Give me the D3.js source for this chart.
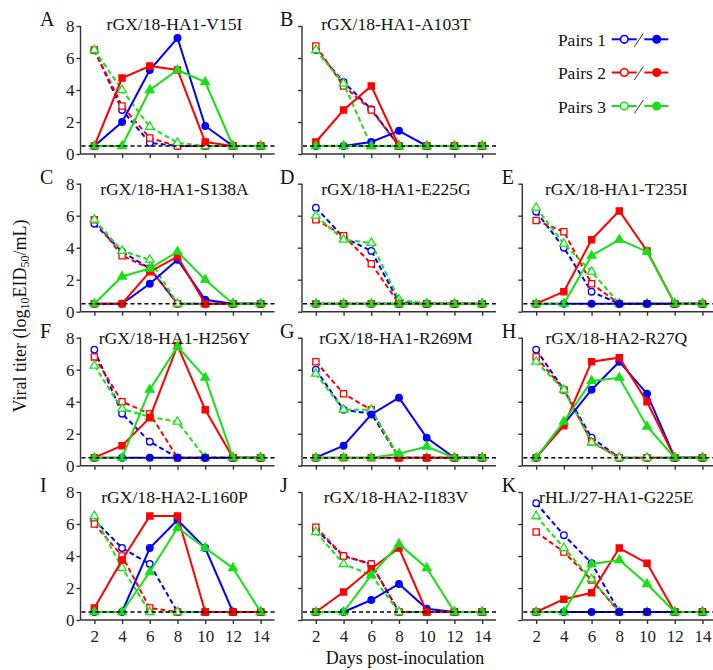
<!DOCTYPE html>
<html><head><meta charset="utf-8">
<script src="https://cdn.jsdelivr.net/npm/d3@7"></script>
<style>body{margin:0;background:#fff} svg{display:block}</style>
</head><body>
<svg id="chart" width="713" height="670"></svg>
<script>
// ---------------- DATA ----------------
const days = [2, 4, 6, 8, 10, 12, 14];
const yTicks = [0, 2, 4, 6, 8];
const detectionLimit = 0.5;
const panelLetters = ["A","B","C","D","E","F","G","H","I","J","K"];
const panelTitles = ["rGX/18-HA1-V15I","rGX/18-HA1-A103T","rGX/18-HA1-S138A","rGX/18-HA1-E225G",
  "rGX/18-HA1-T235I","rGX/18-HA1-H256Y","rGX/18-HA1-R269M","rGX/18-HA2-R27Q",
  "rGX/18-HA2-L160P","rGX/18-HA2-I183V","rHLJ/27-HA1-G225E"];
const pairLabels = ["Pairs 1","Pairs 2","Pairs 3"];
// rows: inoculated pair1, pair2, pair3 (dashed, open), contact pair1, pair2, pair3 (solid, filled)
const dataA = [
  [6.5,2.75,0.7,0.5,0.5,0.5,0.5],[6.5,3.0,1.0,0.5,0.5,0.5,0.5],[6.5,4.0,1.7,0.7,0.5,0.5,0.5],
  [0.5,2.0,5.25,7.25,1.75,0.5,0.5],[0.5,4.75,5.5,5.25,0.75,0.5,0.5],[0.5,0.5,4.0,5.25,4.5,0.5,0.5]];
const dataB = [
  [6.5,4.5,2.8,0.5,0.5,0.5,0.5],[6.75,4.25,2.75,0.5,0.5,0.5,0.5],[6.5,4.4,0.5,0.5,0.5,0.5,0.5],
  [0.5,0.5,0.75,1.45,0.5,0.5,0.5],[0.75,2.75,4.25,0.5,0.5,0.5,0.5],[0.5,0.5,0.5,0.5,0.5,0.5,0.5]];
const dataC = [
  [5.5,3.75,2.7,0.5,0.5,0.5,0.5],[5.75,3.5,2.7,0.5,0.5,0.5,0.5],[5.75,3.8,3.25,0.5,0.5,0.5,0.5],
  [0.5,0.5,1.75,3.25,0.75,0.5,0.5],[0.5,0.5,2.5,3.45,0.5,0.5,0.5],[0.5,2.2,2.7,3.75,2.0,0.5,0.5]];
const dataD = [
  [6.5,4.65,3.8,0.6,0.5,0.5,0.5],[5.75,4.75,3.0,0.5,0.5,0.5,0.5],[6.0,4.5,4.3,0.75,0.5,0.5,0.5],
  [0.5,0.5,0.5,0.5,0.5,0.5,0.5],[0.5,0.5,0.5,0.5,0.5,0.5,0.5],[0.5,0.5,0.5,0.5,0.5,0.5,0.5]];
const dataE = [
  [6.25,4.0,1.25,0.5,0.5,0.5,0.5],[5.7,5.0,1.75,0.5,0.5,0.5,0.5],[6.5,4.25,2.5,0.5,0.5,0.5,0.5],
  [0.5,0.5,0.5,0.5,0.5,0.5,0.5],[0.5,1.25,4.5,6.3,3.8,0.5,0.5],[0.5,0.5,3.5,4.5,3.75,0.5,0.5]];
const dataF = [
  [7.25,3.25,1.5,0.5,0.5,0.5,0.5],[6.8,4.0,3.25,0.5,0.5,0.5,0.5],[6.25,3.55,3.05,2.75,0.5,0.5,0.5],
  [0.5,0.5,0.5,0.5,0.5,0.5,0.5],[0.5,1.25,3.0,7.5,3.5,0.5,0.5],[0.5,0.5,4.75,7.45,5.5,0.5,0.5]];
const dataG = [
  [6.0,3.5,3.25,0.5,0.5,0.5,0.5],[6.5,4.5,3.5,0.5,0.5,0.5,0.5],[5.75,3.5,3.5,0.5,0.5,0.5,0.5],
  [0.5,1.25,3.2,4.25,1.75,0.5,0.5],[0.5,0.5,0.5,0.5,0.5,0.5,0.5],[0.5,0.5,0.5,0.75,1.2,0.5,0.5]];
const dataH = [
  [7.25,4.75,1.75,0.5,0.5,0.5,0.5],[6.8,4.75,1.5,0.5,0.5,0.5,0.5],[6.5,4.75,1.45,0.5,0.5,0.5,0.5],
  [0.5,2.6,4.75,6.5,4.5,0.5,0.5],[0.5,2.5,6.5,6.75,4.0,0.5,0.5],[0.5,2.75,5.3,5.5,2.45,0.5,0.5]];
const dataI = [
  [6.25,4.5,3.5,0.5,0.5,0.5,0.5],[6.0,4.0,0.75,0.5,0.5,0.5,0.5],[6.5,3.25,0.5,0.5,0.5,0.5,0.5],
  [0.5,0.5,4.5,6.25,4.5,0.5,0.5],[0.75,3.75,6.5,6.5,0.5,0.5,0.5],[0.5,0.5,3.0,5.75,4.5,3.25,0.5]];
const dataJ = [
  [5.65,4.0,3.5,0.5,0.5,0.5,0.5],[5.8,4.0,3.5,0.5,0.5,0.5,0.5],[5.5,3.5,2.8,0.5,0.5,0.5,0.5],
  [0.5,0.5,1.25,2.25,0.7,0.5,0.5],[0.5,1.75,3.2,4.5,0.5,0.5,0.5],[0.5,0.5,2.8,4.75,3.25,0.5,0.5]];
const dataK = [
  [7.3,5.3,3.55,0.5,0.5,0.5,0.5],[5.5,4.25,2.5,0.5,0.5,0.5,0.5],[6.5,4.5,2.55,0.5,0.5,0.5,0.5],
  [0.5,0.5,0.5,0.5,0.5,0.5,0.5],[0.5,1.3,1.7,4.5,3.55,0.5,0.5],[0.5,0.5,3.5,3.75,2.25,0.5,0.5]];
const panelData = [dataA,dataB,dataC,dataD,dataE,dataF,dataG,dataH,dataI,dataJ,dataK];

// ---------------- LAYOUT / STYLE ----------------
const FONT = "'Liberation Serif','Times New Roman',serif";
const colors = ["#0000ff", "#ff0000", "#16e016"];
const colX = [80.5, 302, 522.3];
const rowY = [154, 311.7, 465.7, 620];        // pixel of y = 0
const titleDy = [4, 11, 6.5, 11];             // title baseline below axis top
const letterX = [40, 280, 501.7];
const slots = [[0,0],[1,0],[0,1],[1,1],[2,1],[0,2],[1,2],[2,2],[0,3],[1,3],[2,3]];
const panelW = 194, panelH = 128;
const axisColor = "#333";

const svg = d3.select("#chart").style("font-family", FONT);
const symbols = [d3.symbolCircle, d3.symbolSquare, d3.symbolTriangle];
const symSize = [34, 38, 32];

panelData.forEach((data, pi) => {
  const [c, r] = slots[pi];
  const x0 = colX[c], y0 = rowY[r];
  const x = d3.scaleLinear().domain([1, 15]).range([x0, x0 + panelW]);
  const y = d3.scaleLinear().domain([0, 8]).range([y0, y0 - panelH]);
  const g = svg.append("g");

  // axes
  const yAx = d3.axisLeft(y).tickValues(yTicks).tickSize(4).tickPadding(2)
    .tickFormat(c === 0 ? d3.format("d") : () => "");
  const gy = g.append("g").attr("transform", `translate(${x0},0)`).call(yAx);
  const xAx = d3.axisBottom(x).tickValues(days).tickSize(4).tickPadding(6)
    .tickFormat(r === 3 ? d3.format("d") : () => "");
  const gx = g.append("g").attr("transform", `translate(0,${y0})`).call(xAx);
  [gx, gy].forEach(a => {
    a.select(".domain").attr("stroke", axisColor).attr("stroke-width", 1.4);
    a.selectAll(".tick line").attr("stroke", axisColor).attr("stroke-width", 1.4);
    a.selectAll(".tick text").attr("fill", "#222").style("font-size", "17px").style("font-family", FONT);
  });
  gx.select(".domain").attr("d", `M${x0},0H${x0 + panelW}`);
  gy.select(".domain").attr("d", `M0,${y(8)}V${y0}`);

  const line = d3.line().x((d, i) => x(days[i])).y(d => y(d));

  // series: dashed first, then solid
  data.forEach((vals, si) => {
    const pair = si % 3, contact = si >= 3;
    const col = colors[pair];
    g.append("path").datum(vals).attr("d", line)
      .attr("fill", "none").attr("stroke", col).attr("stroke-width", 2)
      .attr("stroke-dasharray", contact ? null : "5,3");
    g.selectAll(null).data(vals).enter().append("path")
      .attr("transform", (d, i) => `translate(${x(days[i])},${y(d)})`)
      .attr("d", d3.symbol().type(symbols[pair]).size(symSize[pair]))
      .attr("fill", contact ? col : "#fff")
      .attr("stroke", col).attr("stroke-width", 1.3);
  });

  // detection limit
  g.append("line").attr("x1", x0 + 1).attr("x2", x0 + panelW)
    .attr("y1", y(detectionLimit)).attr("y2", y(detectionLimit))
    .attr("stroke", "#000").attr("stroke-width", 1.4).attr("stroke-dasharray", "4,3");

  // title & letter
  g.append("text").attr("x", x0 + 94).attr("y", y(8) + titleDy[r])
    .attr("text-anchor", "middle").style("font-size", "17.6px").attr("fill", "#111")
    .text(panelTitles[pi]);
  g.append("text").attr("x", letterX[c]).attr("y", y(8))
    .style("font-size", "20px").attr("fill", "#111").text(panelLetters[pi]);
});

// y label
const yl = svg.append("text").attr("transform", "translate(26,316) rotate(-90)")
  .attr("text-anchor", "middle").style("font-size", "18px").attr("fill", "#111");
yl.append("tspan").text("Viral titer (log");
yl.append("tspan").attr("baseline-shift", "-25%").style("font-size", "12px").text("10");
yl.append("tspan").text("EID");
yl.append("tspan").attr("baseline-shift", "-25%").style("font-size", "12px").text("50");
yl.append("tspan").text("/mL)");

// x label
svg.append("text").attr("x", 405).attr("y", 664).attr("text-anchor", "middle")
  .style("font-size", "18px").attr("fill", "#111").text("Days post-inoculation");

// legend
const legY = [39.3, 72.5, 106];
pairLabels.forEach((lab, i) => {
  const ly = legY[i], col = colors[i];
  const lg = svg.append("g");
  lg.append("text").attr("x", 606).attr("y", ly + 6.5).attr("text-anchor", "end")
    .style("font-size", "17.5px").attr("fill", "#111").text(lab);
  lg.append("line").attr("x1", 611.7).attr("x2", 636.7).attr("y1", ly).attr("y2", ly)
    .attr("stroke", col).attr("stroke-width", 2);
  lg.append("circle").attr("cx", 624.3).attr("cy", ly).attr("r", 3.8)
    .attr("fill", "#fff").attr("stroke", col).attr("stroke-width", 1.6);
  lg.append("line").attr("x1", 634.3).attr("y1", ly + 7.5).attr("x2", 643.3).attr("y2", ly - 6)
    .attr("stroke", "#333").attr("stroke-width", 1);
  lg.append("line").attr("x1", 644.3).attr("x2", 668.3).attr("y1", ly).attr("y2", ly)
    .attr("stroke", col).attr("stroke-width", 2);
  lg.append("circle").attr("cx", 656.7).attr("cy", ly).attr("r", 4.5).attr("fill", col);
});
</script>
</body></html>
